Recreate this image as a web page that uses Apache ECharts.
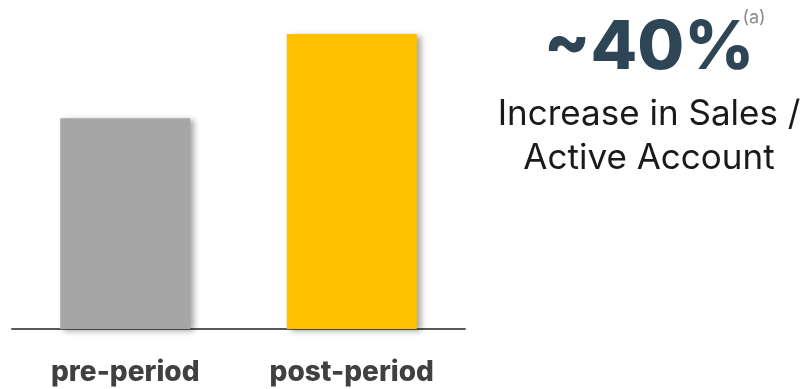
<!DOCTYPE html>
<html>
<head>
<meta charset="utf-8">
<script src="https://cdn.jsdelivr.net/npm/echarts@6/dist/echarts.min.js"></script>
<style>html,body{margin:0;padding:0;background:#fff;}#c{width:802px;height:389px;}</style>
</head>
<body>
<div id="c"></div>
<script>
const categories = ['pre-period', 'post-period'];
const values = [100, 140];
const barColors = ['#a6a6a6', '#ffc000'];
const headline = '~40%';
const footnote = '(a)';
const caption = ['Increase in Sales /', 'Active Account'];

const chart = echarts.init(document.getElementById('c'), null, {renderer: 'canvas'});
chart.setOption({
  animation: false,
  grid: {left: 12, top: 34, width: 453, bottom: 60, containLabel: false},
  xAxis: {
    type: 'category',
    data: categories,
    axisLine: {show: true, lineStyle: {color: '#595959', width: 2}},
    axisTick: {show: false},
    axisLabel: {color: '#404040', fontSize: 28, fontWeight: 800, fontFamily: 'Inter', margin: 30}
  },
  yAxis: {
    type: 'value', min: 0, max: 140,
    show: false, splitLine: {show: false}
  },
  series: [{
    type: 'bar',
    barWidth: 130,
    data: values.map((v, i) => ({value: v, itemStyle: {color: barColors[i]}})),
    itemStyle: {shadowColor: 'rgba(0,0,0,0.35)', shadowBlur: 6, shadowOffsetX: 4, shadowOffsetY: 2}
  }],
  graphic: [
    {type: 'text', style: {text: headline, x: 649, y: 49, textAlign: 'center', textVerticalAlign: 'middle', fill: '#2e4555', font: '800 68px Inter'}},
    {type: 'text', style: {text: footnote, x: 754, y: 18, textAlign: 'center', textVerticalAlign: 'middle', fill: '#8c8c8c', font: '18px Inter'}},
    {type: 'text', style: {text: caption[0], x: 649, y: 114, textAlign: 'center', textVerticalAlign: 'middle', fill: '#1a1a1a', font: '35px Inter'}},
    {type: 'text', style: {text: caption[1], x: 649, y: 158, textAlign: 'center', textVerticalAlign: 'middle', fill: '#1a1a1a', font: '35px Inter'}}
  ]
});
</script>
</body>
</html>
